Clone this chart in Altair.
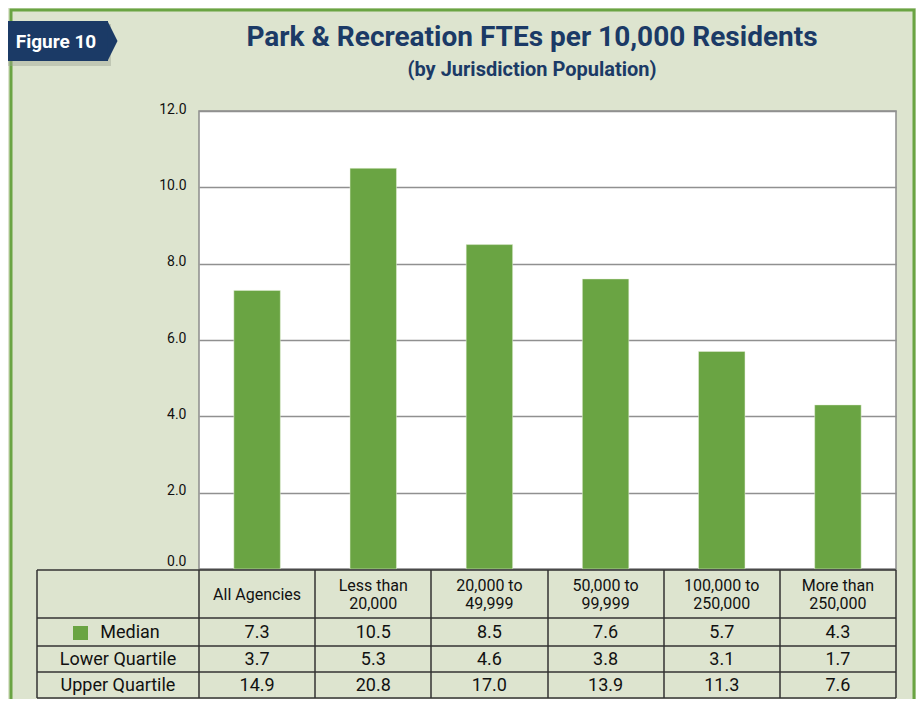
import altair as alt
import pandas as pd

# ---------------- data ----------------
categories = ["All Agencies", "Less than 20,000", "20,000 to 49,999",
              "50,000 to 99,999", "100,000 to 250,000", "More than 250,000"]
header_lines = [["All Agencies"], ["Less than", "20,000"], ["20,000 to", "49,999"],
                ["50,000 to", "99,999"], ["100,000 to", "250,000"], ["More than", "250,000"]]
median = [7.3, 10.5, 8.5, 7.6, 5.7, 4.3]
lower_q = [3.7, 5.3, 4.6, 3.8, 3.1, 1.7]
upper_q = [14.9, 20.8, 17.0, 13.9, 11.3, 7.6]
row_labels = ["Median", "Lower Quartile", "Upper Quartile"]
y_ticks = [0, 2, 4, 6, 8, 10, 12]
title_text = "Park & Recreation FTEs per 10,000 Residents"
subtitle_text = "(by Jurisdiction Population)"
figure_label = "Figure 10"

# ---------------- styles ----------------
FONT = "Roboto, sans-serif"
GREEN = "#6aa443"
NAVY = "#1b3a66"
BG = "#dde4cf"
W, H = 697, 458

df = pd.DataFrame({
    "category": categories,
    "header": header_lines,
    "nlines": [len(h) for h in header_lines],
    "median": median,
    "lower": [f"{v:.1f}" for v in lower_q],
    "upper": [f"{v:.1f}" for v in upper_q],
    "median_txt": [f"{v:.1f}" for v in median],
})

xscale = alt.Scale(domain=categories, paddingInner=0.6, paddingOuter=0.3)
X = alt.X("category:N", sort=categories, scale=xscale, axis=None)

# frame border (green)
frame = alt.Chart(pd.DataFrame({"k": [0]})).mark_rect(
    fill=None, stroke=GREEN, strokeWidth=3
).encode(x=alt.value(-188), x2=alt.value(715), y=alt.value(-101), y2=alt.value(640))

bars = alt.Chart(df).mark_bar(color=GREEN, stroke="#e8f0dc", strokeWidth=0.5).encode(
    x=X,
    y=alt.Y("median:Q", scale=alt.Scale(domain=[0, 12], nice=False),
            axis=alt.Axis(values=y_ticks, format=".1f", title=None, ticks=False,
                          domain=False, grid=True, gridColor="#909090", gridWidth=1.5,
                          labelFontSize=14, labelPadding=13, labelFont=FONT,
                          labelColor="#111111",
                          labelOffset=alt.condition("datum.value == 0", alt.value(-8), alt.value(-2)))),
)

# tab
tab_df = pd.DataFrame({"t": [figure_label]})
tab_shadow = alt.Chart(tab_df).mark_rect(fill="#9ea393", opacity=0.45).encode(
    x=alt.value(-191), x2=alt.value(-88), y=alt.value(-87), y2=alt.value(-45))
tab_body = alt.Chart(tab_df).mark_rect(fill=NAVY).encode(
    x=alt.value(-191), x2=alt.value(-91), y=alt.value(-90), y2=alt.value(-50))
tab_tip = alt.Chart(tab_df).mark_point(
    shape="M-0.25,-1L0.25,0L-0.25,1Z", filled=True, fill=NAVY, opacity=1, size=1600,
    strokeWidth=0
).encode(x=alt.value(-86.5), y=alt.value(-70))
tab_text = alt.Chart(tab_df).mark_text(
    font=FONT, fontSize=19, fontWeight="bold", color="white", align="center", baseline="middle"
).encode(x=alt.value(-143), y=alt.value(-69), text="t:N")

title = alt.Chart(pd.DataFrame({"t": [title_text]})).mark_text(
    font=FONT, fontSize=28, fontWeight="bold", color=NAVY, align="center", baseline="middle"
).encode(x=alt.value(333), y=alt.value(-73), text="t:N")
subtitle = alt.Chart(pd.DataFrame({"t": [subtitle_text]})).mark_text(
    font=FONT, fontSize=20, fontWeight="bold", color=NAVY, align="center", baseline="middle"
).encode(x=alt.value(333), y=alt.value(-41), text="t:N")

# table grid lines
h_lines = [459, 507, 535, 561, 587]
v_lines = [-162, 0, 116, 232, 349, 465, 581, 697]
hl = alt.Chart(pd.DataFrame({"y": h_lines})).mark_rule(color="#333333", strokeWidth=1.5).encode(
    y=alt.Y("y:Q", scale=None), x=alt.value(-162), x2=alt.value(697))
vl = alt.Chart(pd.DataFrame({"x": v_lines})).mark_rule(color="#333333", strokeWidth=1.5).encode(
    x=alt.X("x:Q", scale=None), y=alt.value(459), y2=alt.value(587))

HDR = dict(font=FONT, fontSize=16, color="#111111", align="center", baseline="middle")
TXT = dict(font=FONT, fontSize=18, color="#111111", align="center", baseline="middle")
header1 = alt.Chart(df).transform_filter("datum.nlines == 1").mark_text(**HDR).encode(
    x=X, y=alt.value(484), text="header")
header2 = alt.Chart(df).transform_filter("datum.nlines == 2").mark_text(**HDR, lineHeight=18).encode(
    x=X, y=alt.value(475), text="header")
row_med = alt.Chart(df).mark_text(**TXT).encode(x=X, y=alt.value(522), text="median_txt:N")
row_low = alt.Chart(df).mark_text(**TXT).encode(x=X, y=alt.value(549), text="lower:N")
row_up = alt.Chart(df).mark_text(**TXT).encode(x=X, y=alt.value(575), text="upper:N")

lab_df = pd.DataFrame({"label": row_labels})
lab_med = alt.Chart(lab_df.iloc[[0]]).mark_text(**TXT).encode(
    x=alt.value(-69), y=alt.value(522), text="label:N")
lab_low = alt.Chart(lab_df.iloc[[1]]).mark_text(**TXT).encode(
    x=alt.value(-81), y=alt.value(549), text="label:N")
lab_up = alt.Chart(lab_df.iloc[[2]]).mark_text(**TXT).encode(
    x=alt.value(-81), y=alt.value(575), text="label:N")
swatch = alt.Chart(lab_df.iloc[[0]]).mark_rect(fill=GREEN).encode(
    x=alt.value(-126), x2=alt.value(-111), y=alt.value(515), y2=alt.value(529))

chart = alt.layer(
    frame, bars, tab_shadow, tab_body, tab_tip, tab_text, title, subtitle,
    hl, vl, header1, header2, row_med, row_low, row_up, lab_med, lab_low, lab_up, swatch
).properties(
    width=W, height=H,
    autosize=alt.AutoSizeParams(type="none"),
    padding={"left": 191, "top": 103, "right": 20, "bottom": 130},
    background=BG,
).configure_view(
    fill="white", stroke="#8c8c8c", strokeWidth=1.5
)

chart.save("out.html", embed_options={"renderer": "svg", "actions": False})
